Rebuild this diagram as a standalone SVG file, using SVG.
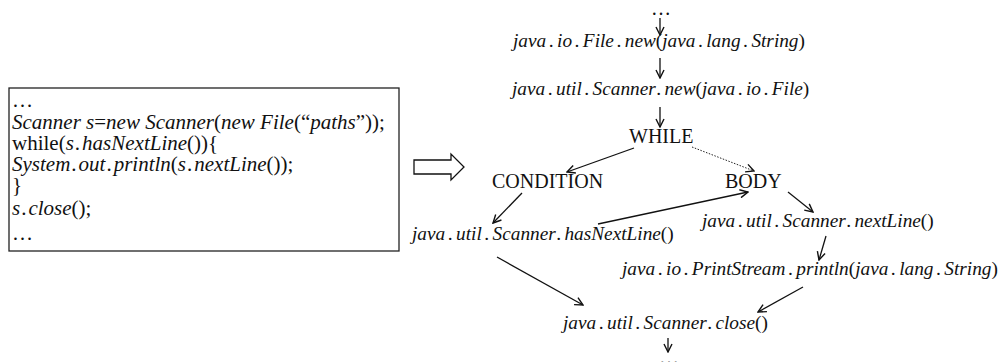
<svg xmlns="http://www.w3.org/2000/svg" width="1006" height="362" viewBox="0 0 1006 362">
  <style>
    .code { font-family: "Liberation Serif", "Times New Roman", serif; font-size: 21px; fill: #111; }
    .lbl { font-family: "Liberation Serif", "Times New Roman", serif; font-size: 19.3px; fill: #111; font-style: italic; }
    .cap { font-family: "Liberation Serif", "Times New Roman", serif; font-size: 20px; fill: #111; }
    .i { font-style: italic; }
    .u { font-style: normal; }
    .edge { stroke: #111; stroke-width: 1.3; fill: none; marker-end: url(#head); }
    .dotted { stroke: #222; stroke-width: 1; stroke-dasharray: 1.5 1.5; fill: none; marker-end: url(#head); }
  </style>
  <defs>
    <marker id="head" viewBox="0 0 10 10" refX="9" refY="5" markerWidth="10" markerHeight="10" markerUnits="userSpaceOnUse" orient="auto">
      <path d="M1,1 L9,5 L1,9" fill="none" stroke="#111" stroke-width="1.4"/>
    </marker>
  </defs>
  <rect width="1006" height="362" fill="#ffffff"/>

  <!-- source snippet -->
  <g id="code">
    <rect x="9" y="88" width="390" height="163" fill="#ffffff" stroke="#222" stroke-width="1.3"/>
    <text class="code" x="12" y="107">…</text>
    <text class="code" x="12" y="129"><tspan class="i">Scanner s</tspan>=<tspan class="i">new Scanner</tspan>(<tspan class="i">new File</tspan>(“<tspan class="i">paths</tspan>”));</text>
    <text class="code" x="12" y="150">while(<tspan class="i">s</tspan><tspan class="i" dx="1.5">.</tspan><tspan class="i" dx="1.5">hasNextLine</tspan>()){</text>
    <text class="code" x="12" y="171"><tspan class="i">System</tspan><tspan class="i" dx="1.5">.</tspan><tspan class="i" dx="1.5">out</tspan><tspan class="i" dx="1.5">.</tspan><tspan class="i" dx="1.5">println</tspan>(<tspan class="i">s</tspan><tspan class="i" dx="1.5">.</tspan><tspan class="i" dx="1.5">nextLine</tspan>());</text>
    <text class="code" x="12" y="192">}</text>
    <text class="code" x="12" y="215"><tspan class="i">s</tspan><tspan class="i" dx="1.5">.</tspan><tspan class="i" dx="1.5">close</tspan>();</text>
    <text class="code" x="12" y="240">…</text>
  </g>

  <!-- transformation arrow -->
  <g id="transform-arrow">
    <polygon points="414,160 451,160 451,154 464,167 451,180 451,174 414,174" fill="#ffffff" stroke="#111" stroke-width="1.3"/>
  </g>

  <!-- call graph nodes -->
  <g id="start">
    <text class="cap" x="651" y="15" font-size="17">…</text>
  </g>
  <g id="file-new">
    <text class="lbl" x="513" y="47">java<tspan dx="3">.</tspan><tspan dx="3">io</tspan><tspan dx="3">.</tspan><tspan dx="3">File</tspan><tspan dx="3">.</tspan><tspan dx="3">new</tspan><tspan class="u">(</tspan>java<tspan dx="3">.</tspan><tspan dx="3">lang</tspan><tspan dx="3">.</tspan><tspan dx="3">String</tspan><tspan class="u">)</tspan></text>
  </g>
  <g id="scanner-new">
    <text class="lbl" x="512" y="95">java<tspan dx="3">.</tspan><tspan dx="3">util</tspan><tspan dx="3">.</tspan><tspan dx="3">Scanner</tspan><tspan dx="3">.</tspan><tspan dx="3">new</tspan><tspan class="u">(</tspan>java<tspan dx="3">.</tspan><tspan dx="3">io</tspan><tspan dx="3">.</tspan><tspan dx="3">File</tspan><tspan class="u">)</tspan></text>
  </g>
  <g id="while">
    <text class="cap" x="629" y="143">WHILE</text>
  </g>
  <g id="condition">
    <text class="cap" x="492" y="188">CONDITION</text>
  </g>
  <g id="body">
    <text class="cap" x="725" y="188">BODY</text>
  </g>
  <g id="has-next-line">
    <text class="lbl" x="412" y="240">java<tspan dx="3">.</tspan><tspan dx="3">util</tspan><tspan dx="3">.</tspan><tspan dx="3">Scanner</tspan><tspan dx="3">.</tspan><tspan dx="3">hasNextLine</tspan><tspan class="u">()</tspan></text>
  </g>
  <g id="next-line">
    <text class="lbl" x="702" y="227">java<tspan dx="3">.</tspan><tspan dx="3">util</tspan><tspan dx="3">.</tspan><tspan dx="3">Scanner</tspan><tspan dx="3">.</tspan><tspan dx="3">nextLine</tspan><tspan class="u">()</tspan></text>
  </g>
  <g id="println">
    <text class="lbl" x="622" y="275">java<tspan dx="3">.</tspan><tspan dx="3">io</tspan><tspan dx="3">.</tspan><tspan dx="3">PrintStream</tspan><tspan dx="3">.</tspan><tspan dx="3">println</tspan><tspan class="u">(</tspan>java<tspan dx="3">.</tspan><tspan dx="3">lang</tspan><tspan dx="3">.</tspan><tspan dx="3">String</tspan><tspan class="u">)</tspan></text>
  </g>
  <g id="close">
    <text class="lbl" x="563" y="329">java<tspan dx="3">.</tspan><tspan dx="3">util</tspan><tspan dx="3">.</tspan><tspan dx="3">Scanner</tspan><tspan dx="3">.</tspan><tspan dx="3">close</tspan><tspan class="u">()</tspan></text>
  </g>
  <g id="end">
    <text class="cap" x="659" y="364">…</text>
  </g>

  <!-- connectors -->
  <g id="connectors">
    <line class="edge" x1="660" y1="18" x2="660" y2="35"/>
    <line class="edge" x1="660" y1="58" x2="660" y2="78"/>
    <line class="edge" x1="660" y1="107" x2="660" y2="127"/>
    <line class="edge" x1="634" y1="148" x2="567" y2="172"/>
    <line class="dotted" x1="692" y1="147" x2="754" y2="171"/>
    <line class="edge" x1="522" y1="193" x2="493" y2="223"/>
    <line class="edge" x1="598" y1="224" x2="748" y2="192"/>
    <line class="edge" x1="788" y1="192" x2="813" y2="212"/>
    <line class="edge" x1="826" y1="236" x2="819" y2="260"/>
    <line class="edge" x1="497" y1="257" x2="583" y2="305"/>
    <line class="edge" x1="803" y1="287" x2="758" y2="312"/>
    <line class="edge" x1="668" y1="338" x2="668" y2="352"/>
  </g>
</svg>
